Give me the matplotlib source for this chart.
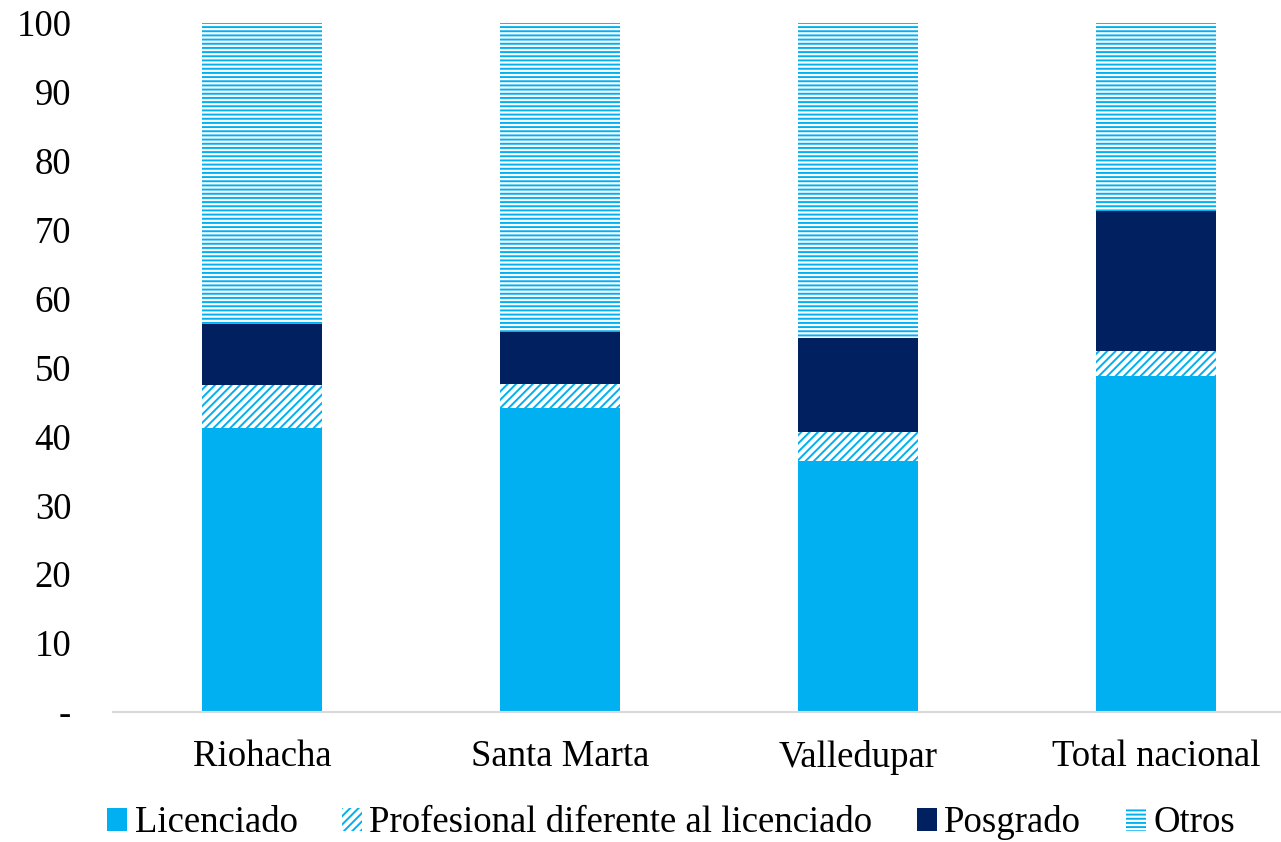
import matplotlib
matplotlib.use("Agg")
import matplotlib.pyplot as plt
import numpy as np

categories = ["Riohacha", "Santa Marta", "Valledupar", "Total nacional"]
licenciado = [41.2, 44.1, 36.4, 48.8]
profesional = [6.3, 3.5, 4.2, 3.6]
posgrado = [8.8, 7.6, 13.7, 20.3]
otros = [43.7, 44.8, 45.7, 27.3]
series_names = ["Licenciado", "Profesional diferente al licenciado", "Posgrado", "Otros"]
yticks = [0, 10, 20, 30, 40, 50, 60, 70, 80, 90, 100]
ytick_labels = ["-", "10", "20", "30", "40", "50", "60", "70", "80", "90", "100"]

plt.rcParams['font.family'] = ['Liberation Serif', 'DejaVu Serif']
plt.rcParams['hatch.linewidth'] = 1.4

W, H = 1281, 842
fig = plt.figure(figsize=(W/100, H/100), dpi=100)
ax = fig.add_axes([113/W, (H-712)/H, 1192/W, 689/H])

x = np.arange(len(categories))
bw = 0.4
blue = "#00B0F0"
navy = "#002060"

bottom = np.zeros(len(categories))
ax.bar(x, licenciado, bw, bottom=bottom, color=blue, linewidth=0, label=series_names[0])
bottom += licenciado
ax.bar(x, profesional, bw, bottom=bottom, facecolor="white", edgecolor=blue, hatch="////", linewidth=0, label=series_names[1])
bottom += profesional
ax.bar(x, posgrado, bw, bottom=bottom, color=navy, linewidth=0, label=series_names[2])
bottom += posgrado
ax.bar(x, otros, bw, bottom=bottom, facecolor="white", edgecolor=blue, hatch="----", linewidth=0, label=series_names[3])

ax.set_xlim(-0.5, 3.5)
ax.set_ylim(0, 100)
ax.set_yticks(yticks)
ax.set_yticklabels(ytick_labels, fontsize=26.5)
ax.set_xticks(x)
ax.set_xticklabels(categories, fontsize=26.5)
ax.tick_params(axis='y', length=0, pad=30)
ax.tick_params(axis='x', length=0, pad=20)
for s in ['top', 'right', 'left']:
    ax.spines[s].set_visible(False)
ax.spines['bottom'].set_color("#D9D9D9")
ax.spines['bottom'].set_linewidth(1.5)

leg = fig.legend(loc='center', bbox_to_anchor=(671/W, 1-823/H), ncol=4, frameon=False,
                 fontsize=26.5, handlelength=0.55, handleheight=0.55, handletextpad=0.2,
                 columnspacing=1.2, borderaxespad=0)

fig.savefig("out.png", dpi=100)
